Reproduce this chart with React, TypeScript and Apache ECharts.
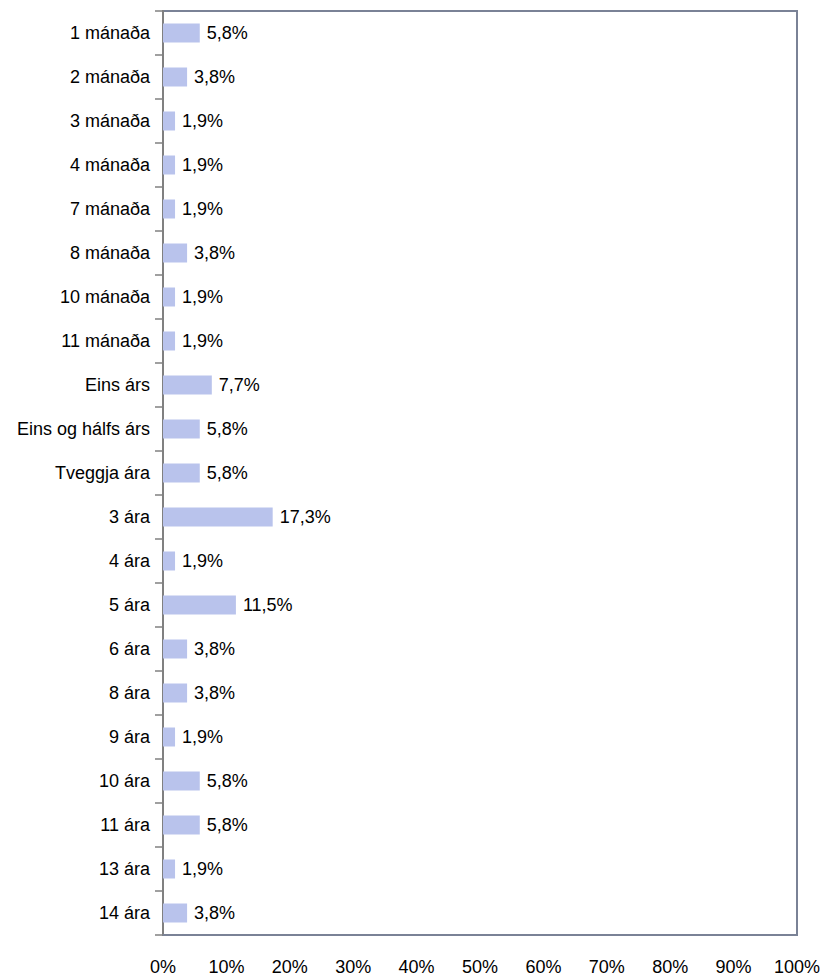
import React, { useEffect, useRef } from "react";
import * as echarts from "echarts";

const categories = [
  "1 mánaða", "2 mánaða", "3 mánaða", "4 mánaða", "7 mánaða", "8 mánaða",
  "10 mánaða", "11 mánaða", "Eins árs", "Eins og hálfs árs", "Tveggja ára",
  "3 ára", "4 ára", "5 ára", "6 ára", "8 ára", "9 ára", "10 ára", "11 ára",
  "13 ára", "14 ára",
];
const values = [
  5.8, 3.8, 1.9, 1.9, 1.9, 3.8, 1.9, 1.9, 7.7, 5.8, 5.8,
  17.3, 1.9, 11.5, 3.8, 3.8, 1.9, 5.8, 5.8, 1.9, 3.8,
];
const xMin = 0;
const xMax = 100;
const xStep = 10;

const FONT = "'Liberation Sans', Arial, sans-serif";
const FS = 18;

export default function App() {
  const ref = useRef<HTMLDivElement>(null);
  useEffect(() => {
    document.body.style.margin = "0";
    const chart = echarts.init(ref.current!, undefined, { renderer: "svg" });
    chart.setOption({
      animation: false,
      backgroundColor: "#ffffff",
      grid: {
        left: 163,
        right: 25,
        top: 11,
        bottom: 41,
        outerBoundsMode: "none",
        containLabel: false,
        show: true,
        borderColor: "#7a8296",
        borderWidth: 2,
      },
      xAxis: {
        type: "value",
        min: xMin,
        max: xMax,
        interval: xStep,
        axisLine: { show: true, lineStyle: { color: "#7a8296", width: 2 } },
        axisTick: { show: false },
        splitLine: { show: false },
        axisLabel: {
          formatter: "{value}%",
          color: "#000000",
          fontFamily: FONT,
          fontSize: FS,
          margin: 23,
        },
      },
      yAxis: {
        type: "category",
        inverse: true,
        data: categories,
        axisLine: { show: true, lineStyle: { color: "#808080", width: 2 } },
        axisTick: { show: true, length: 8, lineStyle: { color: "#808080", width: 1.5 } },
        axisLabel: {
          color: "#000000",
          fontFamily: FONT,
          fontSize: FS,
          margin: 13,
        },
      },
      series: [
        {
          type: "bar",
          data: values,
          barWidth: 19,
          itemStyle: { color: "#b9c3ec" },
          label: {
            show: true,
            position: "right",
            distance: 7,
            color: "#000000",
            fontFamily: FONT,
            fontSize: FS,
            formatter: (p: any) => p.value.toFixed(1).replace(".", ",") + "%",
          },
        },
      ],
    });
    return () => chart.dispose();
  }, []);
  return <div ref={ref} style={{ width: 822, height: 976 }} />;
}
